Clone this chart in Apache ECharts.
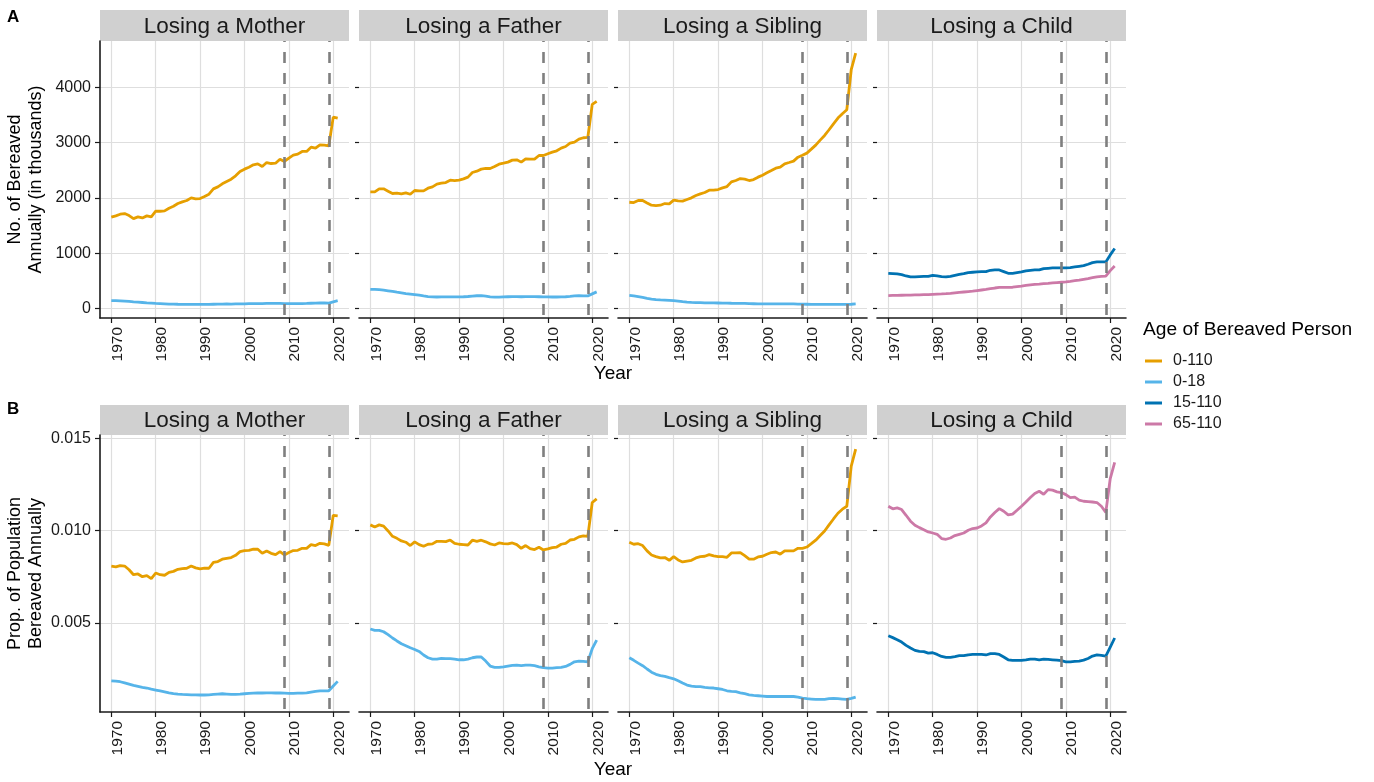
<!DOCTYPE html>
<html>
<head>
<meta charset="utf-8">
<script src="https://cdn.jsdelivr.net/npm/echarts@6/dist/echarts.min.js"></script>
<style>
html,body{margin:0;padding:0;background:#fff;}
#chart{width:1374px;height:782px;}
</style>
</head>
<body>
<div id="chart"></div>
<script>
const years = [1970,1971,1972,1973,1974,1975,1976,1977,1978,1979,1980,1981,1982,1983,1984,1985,1986,1987,1988,1989,1990,1991,1992,1993,1994,1995,1996,1997,1998,1999,2000,2001,2002,2003,2004,2005,2006,2007,2008,2009,2010,2011,2012,2013,2014,2015,2016,2017,2018,2019,2020,2021];
const panelTitles = ['Losing a Mother','Losing a Father','Losing a Sibling','Losing a Child'];
const groupNames = ['0-110','0-18','15-110','65-110'];
const groupColors = ['#E69F00','#56B4E9','#0072B2','#CC79A7'];
const xTicks = [1970,1980,1990,2000,2010,2020];
const yTicksCount = [0,1000,2000,3000,4000];
const yTicksProp = [0.005,0.010,0.015];
const refYears = [2009,2019];

// Panel A: number bereaved annually (thousands)
const countMother0110 = [1650,1674,1704,1716,1680,1625,1656,1637,1674,1656, 1758,1758,1764,1813,1849,1897,1927,1952,2000,1982, 1988,2024,2066,2163,2199,2254,2296,2338,2399,2477, 2520,2556,2598,2616,2568,2640,2622,2628,2700,2659, 2719,2773,2792,2840,2840,2918,2900,2960,2955,2943, 3462,3444];
const countMother018 = [140,138,135,130,125,118,112,106,100,95, 90,86,82,78,76,74,73,73,72,72, 71,71,72,74,76,78,79,78,79,80, 82,84,86,87,87,88,88,88,88,87, 86,86,86,87,89,92,95,97,97,96, 118,138];
const countFather0110 = [2109,2109,2163,2163,2121,2079,2085,2073,2091,2066, 2133,2127,2127,2175,2199,2248,2266,2278,2320,2314, 2320,2344,2375,2459,2483,2520,2532,2532,2568,2610, 2628,2647,2683,2689,2647,2707,2701,2701,2767,2767, 2798,2828,2852,2900,2930,2991,3009,3063,3088,3094, 3692,3746];
const countFather018 = [345,342,338,330,318,305,292,280,268,258, 248,238,225,213,207,205,207,206,206,206, 208,210,214,222,228,230,220,206,203,204, 207,210,212,212,210,212,212,211,210,208, 206,205,205,207,210,217,226,228,227,225, 262,298];
const countSibling0110 = [1921,1915,1952,1952,1909,1867,1861,1867,1897,1891, 1958,1946,1940,1970,2000,2042,2072,2097,2139,2139, 2151,2181,2205,2290,2314,2350,2338,2314,2332,2375, 2411,2453,2495,2538,2556,2616,2640,2665,2737,2773, 2810,2882,2955,3045,3130,3233,3341,3444,3523,3595, 4320,4622];
const countSibling018 = [235,225,212,198,182,168,158,152,148,143, 138,130,120,112,107,104,102,100,99,98, 97,96,94,92,91,90,88,85,83,81, 80,80,79,79,79,79,79,79,78,76, 74,72,71,71,71,72,73,72,71,70, 74,79];
const countChild15110 = [634,628,622,610,586,568,568,574,580,580, 598,586,574,568,580,598,616,628,647,653, 659,665,665,689,695,695,665,634,634,647, 659,677,689,695,695,719,725,731,731,731, 731,737,749,761,773,798,828,840,840,840, 967,1082];
const countChild65110 = [230,233,235,237,238,240,242,244,247,250, 254,257,260,265,272,280,288,296,304,312, 322,332,342,355,368,378,380,378,382,392, 402,414,425,434,440,447,453,460,466,472, 478,488,500,512,526,540,556,570,578,585, 683,767];

// Panel B: proportion of population bereaved annually
const propMother0110 = [0.00807,0.00803,0.00810,0.00808,0.00788,0.00761,0.00765,0.00750,0.00756,0.00740, 0.00770,0.00761,0.00758,0.00774,0.00779,0.00790,0.00794,0.00796,0.00808,0.00798, 0.00792,0.00796,0.00796,0.00828,0.00832,0.00845,0.00850,0.00854,0.00866,0.00886, 0.00892,0.00893,0.00899,0.00899,0.00877,0.00890,0.00877,0.00870,0.00886,0.00868, 0.00881,0.00892,0.00893,0.00904,0.00904,0.00924,0.00919,0.00931,0.00928,0.00920, 0.01083,0.01080];
const propMother018 = [0.00186,0.00184,0.00181,0.00175,0.00168,0.00161,0.00156,0.00151,0.00147,0.00141, 0.00136,0.00131,0.00126,0.00121,0.00117,0.00114,0.00112,0.00111,0.00110,0.00110, 0.00109,0.00109,0.00110,0.00112,0.00114,0.00116,0.00114,0.00112,0.00113,0.00114, 0.00116,0.00118,0.00119,0.00120,0.00120,0.00121,0.00121,0.00120,0.00120,0.00119, 0.00118,0.00118,0.00119,0.00119,0.00121,0.00125,0.00129,0.00132,0.00132,0.00132, 0.00158,0.00183];
const propFather0110 = [0.01031,0.01020,0.01031,0.01024,0.00998,0.00969,0.00958,0.00944,0.00937,0.00919, 0.00939,0.00924,0.00915,0.00926,0.00928,0.00942,0.00942,0.00940,0.00949,0.00931, 0.00926,0.00924,0.00922,0.00948,0.00942,0.00948,0.00939,0.00928,0.00922,0.00933, 0.00929,0.00928,0.00933,0.00924,0.00904,0.00919,0.00902,0.00897,0.00910,0.00895, 0.00901,0.00908,0.00911,0.00926,0.00931,0.00949,0.00953,0.00966,0.00971,0.00969, 0.01152,0.01172];
const propFather018 = [0.00467,0.00459,0.00459,0.00452,0.00436,0.00418,0.00402,0.00387,0.00376,0.00365, 0.00356,0.00345,0.00326,0.00311,0.00304,0.00304,0.00308,0.00306,0.00306,0.00304, 0.00300,0.00300,0.00304,0.00311,0.00315,0.00315,0.00293,0.00266,0.00259,0.00259, 0.00262,0.00266,0.00270,0.00271,0.00268,0.00271,0.00271,0.00268,0.00262,0.00257, 0.00255,0.00255,0.00257,0.00259,0.00264,0.00275,0.00289,0.00293,0.00291,0.00289, 0.00360,0.00407];
const propSibling0110 = [0.00937,0.00926,0.00929,0.00919,0.00890,0.00868,0.00859,0.00852,0.00854,0.00839, 0.00859,0.00841,0.00830,0.00835,0.00839,0.00852,0.00859,0.00861,0.00870,0.00863, 0.00859,0.00859,0.00855,0.00879,0.00879,0.00881,0.00864,0.00845,0.00845,0.00857, 0.00861,0.00872,0.00881,0.00884,0.00872,0.00890,0.00890,0.00890,0.00904,0.00904, 0.00911,0.00929,0.00948,0.00973,0.00998,0.01031,0.01063,0.01094,0.01116,0.01132, 0.01349,0.01441];
const propSibling018 = [0.00311,0.00297,0.00282,0.00268,0.00250,0.00233,0.00221,0.00214,0.00210,0.00203, 0.00197,0.00186,0.00174,0.00163,0.00157,0.00154,0.00154,0.00150,0.00148,0.00147, 0.00143,0.00139,0.00132,0.00129,0.00127,0.00121,0.00116,0.00110,0.00107,0.00105, 0.00103,0.00101,0.00101,0.00101,0.00101,0.00101,0.00101,0.00101,0.00098,0.00092, 0.00089,0.00087,0.00085,0.00085,0.00085,0.00089,0.00091,0.00089,0.00087,0.00085, 0.00091,0.00098];
const propChild15110 = [0.00430,0.00420,0.00409,0.00396,0.00378,0.00364,0.00351,0.00345,0.00344,0.00336, 0.00338,0.00329,0.00318,0.00313,0.00313,0.00317,0.00322,0.00322,0.00327,0.00329, 0.00329,0.00329,0.00326,0.00333,0.00333,0.00329,0.00315,0.00300,0.00297,0.00297, 0.00297,0.00300,0.00304,0.00304,0.00300,0.00304,0.00302,0.00300,0.00298,0.00295, 0.00289,0.00289,0.00291,0.00293,0.00298,0.00307,0.00320,0.00326,0.00324,0.00320, 0.00369,0.00418];
const propChild65110 = [0.01132,0.01118,0.01123,0.01114,0.01083,0.01051,0.01029,0.01016,0.01005,0.00993, 0.00987,0.00980,0.00957,0.00953,0.00960,0.00973,0.00980,0.00987,0.01002,0.01011, 0.01014,0.01025,0.01042,0.01074,0.01098,0.01119,0.01105,0.01085,0.01089,0.01110, 0.01132,0.01155,0.01179,0.01201,0.01213,0.01197,0.01222,0.01219,0.01210,0.01206, 0.01195,0.01179,0.01181,0.01165,0.01159,0.01157,0.01155,0.01152,0.01132,0.01099, 0.01282,0.01369];

const rowsData = [
  [ [[0,countMother0110],[1,countMother018]],
    [[0,countFather0110],[1,countFather018]],
    [[0,countSibling0110],[1,countSibling018]],
    [[2,countChild15110],[3,countChild65110]] ],
  [ [[0,propMother0110],[1,propMother018]],
    [[0,propFather0110],[1,propFather018]],
    [[0,propSibling0110],[1,propSibling018]],
    [[2,propChild15110],[3,propChild65110]] ]
];

const FONT = '"Liberation Sans", Arial, Helvetica, sans-serif';
const gridCol = '#DEDEDE';
const axisCol = '#1a1a1a';
const rowTop = [41, 435];
const rowH = 277;
const panelLeft = [100, 359, 618, 877];
const panelW = 249;
const stripTop = [10, 405];
const stripH = [31, 30];
const yRange = [[-175, 4840], [0.00017, 0.01518]];
const yInt = [1000, 0.005];
const yTicks = [yTicksCount, yTicksProp];
const yNames = ['No. of Bereaved\nAnnually (in thousands)', 'Prop. of Population\nBereaved Annually'];

const grids = [], xAxes = [], yAxes = [], series = [], graphics = [];
let idx = 0;
for (let r = 0; r < 2; r++) {
  for (let p = 0; p < 4; p++) {
    grids.push({left: panelLeft[p], top: rowTop[r], width: panelW, height: rowH, containLabel: false});
    xAxes.push({
      type: 'value', gridIndex: idx, min: 1967.45, max: 2023.55, minInterval: 10, maxInterval: 10,
      axisLine: {show: true, onZero: false, lineStyle: {color: axisCol, width: 1.6}},
      axisTick: {show: true, length: 5, customValues: xTicks, lineStyle: {color: axisCol, width: 1.2}},
      axisLabel: {show: true, rotate: 90, margin: 9, fontSize: 15.5, color: '#1a1a1a', fontFamily: FONT,
        customValues: xTicks, verticalAlign: 'top', lineHeight: 12,
        formatter: v => String(Math.round(v))},
      splitLine: {show: true, lineStyle: {color: gridCol, width: 1.2}}
    });
    const fmt = r === 0 ? (v => String(Math.round(v))) : (v => v.toFixed(3));
    yAxes.push({
      type: 'value', gridIndex: idx, min: yRange[r][0], max: yRange[r][1], minInterval: yInt[r], maxInterval: yInt[r],
      name: p === 0 ? yNames[r] : '', nameLocation: 'middle', nameRotate: 90, nameGap: 53,
      nameTextStyle: {fontSize: 18, lineHeight: 21, color: '#000', fontFamily: FONT},
      axisLine: {show: p === 0, lineStyle: {color: axisCol, width: 1.6}},
      axisTick: {show: true, length: p === 0 ? 5 : 4, customValues: yTicks[r], lineStyle: {color: axisCol, width: 1.2}},
      axisLabel: {show: p === 0, margin: 9, fontSize: 16, color: '#1a1a1a', fontFamily: FONT,
        customValues: yTicks[r], formatter: fmt},
      splitLine: {show: true, lineStyle: {color: gridCol, width: 1.2}}
    });
    rowsData[r][p].forEach(([g, arr]) => {
      series.push({
        type: 'line', name: groupNames[g], xAxisIndex: idx, yAxisIndex: idx,
        data: years.map((y, i) => [y, arr[i]]),
        showSymbol: false, symbol: 'none', smooth: false, silent: true,
        color: groupColors[g],
        lineStyle: {color: groupColors[g], width: 2.8},
        itemStyle: {color: groupColors[g]},
        z: 3
      });
    });
    series.push({
      type: 'line', xAxisIndex: idx, yAxisIndex: idx, data: [], silent: true, z: 5,
      markLine: {
        silent: true, symbol: ['none', 'none'], animation: false,
        label: {show: false},
        lineStyle: {color: '#7F7F7F', width: 2.6, type: [11, 10], dashOffset: -3},
        data: refYears.map(y => ({xAxis: y}))
      }
    });
    graphics.push({type: 'rect', left: panelLeft[p], top: stripTop[r],
      shape: {width: panelW, height: stripH[r]}, style: {fill: '#D0D0D0'}, silent: true});
    graphics.push({type: 'text', x: panelLeft[p] + panelW / 2, y: stripTop[r] + stripH[r] / 2 + 1,
      style: {text: panelTitles[p], font: '22.5px ' + FONT, fill: '#1a1a1a', textAlign: 'center', textVerticalAlign: 'middle'}, silent: true});
    idx++;
  }
}

graphics.push({type: 'text', x: 7, y: 9, style: {text: 'A', font: 'bold 17px ' + FONT, fill: '#000'}});
graphics.push({type: 'text', x: 7, y: 401, style: {text: 'B', font: 'bold 17px ' + FONT, fill: '#000'}});
graphics.push({type: 'text', x: 613, y: 374, style: {text: 'Year', font: '19px ' + FONT, fill: '#000', textAlign: 'center', textVerticalAlign: 'middle'}});
graphics.push({type: 'text', x: 613, y: 770, style: {text: 'Year', font: '19px ' + FONT, fill: '#000', textAlign: 'center', textVerticalAlign: 'middle'}});
graphics.push({type: 'text', x: 1143, y: 330, style: {text: 'Age of Bereaved Person', font: '19.2px ' + FONT, fill: '#000', textVerticalAlign: 'middle'}});

const chart = echarts.init(document.getElementById('chart'), null, {renderer: 'canvas'});
chart.setOption({
  animation: false,
  backgroundColor: '#fff',
  textStyle: {fontFamily: FONT},
  grid: grids,
  xAxis: xAxes,
  yAxis: yAxes,
  series: series,
  legend: {
    orient: 'vertical', left: 1145, top: 353, padding: 0, itemWidth: 17, itemHeight: 3, itemGap: 5,
    icon: 'rect', selectedMode: false,
    data: groupNames,
    textStyle: {fontSize: 16, color: '#1a1a1a', fontFamily: FONT, padding: [0, 0, 0, 6], lineHeight: 16}
  },
  graphic: graphics
});
</script>
</body>
</html>
